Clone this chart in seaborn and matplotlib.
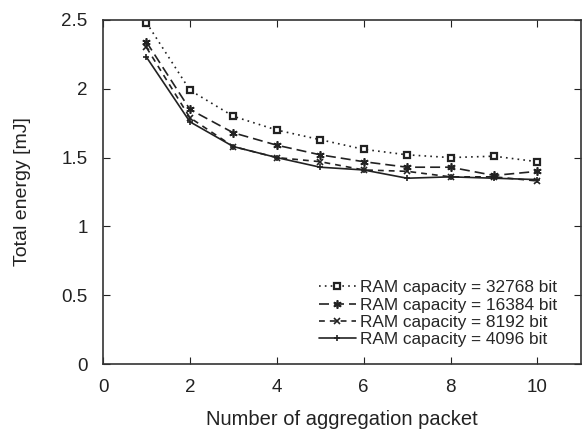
import numpy as np
import pandas as pd
import matplotlib
matplotlib.use('Agg')
import matplotlib.pyplot as plt
import seaborn as sns

# data
pacotes = [1, 2, 3, 4, 5, 6, 7, 8, 9, 10]
ram_32768 = [2.48, 1.99, 1.80, 1.70, 1.63, 1.56, 1.52, 1.50, 1.51, 1.47]
ram_16384 = [2.34, 1.85, 1.68, 1.59, 1.52, 1.47, 1.43, 1.43, 1.37, 1.40]
ram_8192 = [2.30, 1.79, 1.58, 1.50, 1.47, 1.41, 1.40, 1.36, 1.36, 1.33]
ram_4096 = [2.23, 1.76, 1.58, 1.50, 1.43, 1.41, 1.35, 1.36, 1.35, 1.34]

rotulos = ['RAM capacity = 32768 bit', 'RAM capacity = 16384 bit',
           'RAM capacity = 8192 bit', 'RAM capacity = 4096 bit']
series = [ram_32768, ram_16384, ram_8192, ram_4096]

sns.set_style('ticks')
plt.rcParams['font.family'] = ['Liberation Sans', 'DejaVu Sans']
plt.rcParams['xtick.direction'] = 'in'
plt.rcParams['ytick.direction'] = 'in'

# estilos estilo gnuplot
estilos = [
    dict(linestyle=(0, (1, 2.5)), marker='s', markersize=4.8, markerfacecolor='white',
         markeredgewidth=1.6),
    dict(linestyle=(0, (6, 3)), marker=(6, 2, 0), markersize=6, markeredgewidth=1.2),
    dict(linestyle=(0, (3.5, 3)), marker='x', markersize=5, markeredgewidth=1.2),
    dict(linestyle='-', marker='+', markersize=5, markeredgewidth=1.2),
]

fig = plt.figure(figsize=(5.82, 4.29), dpi=100)
ax = fig.add_axes([0.177, 0.1515, 0.821, 0.802])

cor = '#222222'
for valores, rotulo, est in zip(series, rotulos, estilos):
    df = pd.DataFrame({'x': pacotes, 'y': valores})
    sns.lineplot(data=df, x='x', y='y', ax=ax, color=cor, linewidth=1.2,
                 markeredgecolor=cor, label=rotulo, **est)

ax.set_xlim(0, 11)
ax.set_ylim(0, 2.5)
ax.set_xticks([0, 2, 4, 6, 8, 10])
ax.set_yticks([0, 0.5, 1, 1.5, 2, 2.5])
ax.set_yticklabels(['0', '0.5', '1', '1.5', '2', '2.5'])
ax.tick_params(axis='both', which='both', top=True, right=True, length=5,
               width=0.8, labelsize=13.5, colors='#222222', pad=11)
for s in ax.spines.values():
    s.set_linewidth(1.2)
    s.set_color('#333333')

ax.set_xlabel('Number of aggregation packet', fontsize=14.5, labelpad=10, color='#222222')
ax.set_ylabel('Total energy [mJ]', fontsize=14, labelpad=22, color='#222222')

ax.legend(loc='lower right', bbox_to_anchor=(0.95, 0.05), frameon=False,
          fontsize=12.4, handlelength=2.1, handletextpad=0.25, labelspacing=0.12,
          borderaxespad=0, borderpad=0)

plt.savefig('out.png', dpi=100)
